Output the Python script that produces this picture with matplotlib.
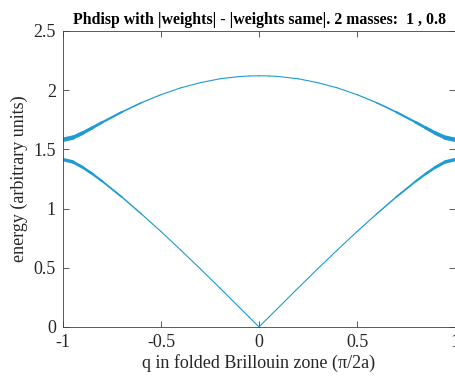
import numpy as np
import matplotlib
matplotlib.use("Agg")
import matplotlib.pyplot as plt
from matplotlib.collections import LineCollection

plt.rcParams["font.family"] = ["Liberation Serif", "DejaVu Serif"]

# q in folded zone (units of pi/2a), right half; mirrored for left half
q_half = [0.0, 0.05, 0.1, 0.2, 0.3, 0.4, 0.5, 0.6, 0.7, 0.8, 0.85, 0.9, 0.95, 1.0]
optical_half = [2.121, 2.12, 2.115, 2.096, 2.063, 2.019, 1.962, 1.894, 1.815,
                1.728, 1.682, 1.637, 1.599, 1.581]
acoustic_half = [0.0, 0.083, 0.165, 0.330, 0.492, 0.651, 0.806, 0.955, 1.098,
                 1.231, 1.293, 1.349, 1.394, 1.414]

TITLE = "Phdisp with |weights| - |weights same|. 2 masses:  1 , 0.8"
BLUE = "#1f9bd3"

q = np.array([-v for v in q_half[::-1]] + q_half[1:])
opt = np.array(optical_half[::-1] + optical_half[1:])
aco = np.array(acoustic_half[::-1] + acoustic_half[1:])


def branch(ax, x, y, w_edge):
    pts = np.column_stack([x, y]).reshape(-1, 1, 2)
    segs = np.concatenate([pts[:-1], pts[1:]], axis=1)
    mid = np.abs(0.5 * (x[:-1] + x[1:]))
    widths = 0.8 + w_edge * np.clip((mid - 0.45) / 0.55, 0, 1) ** 2
    lc = LineCollection(segs, colors=BLUE, linewidths=widths, capstyle="round",
                        joinstyle="round")
    ax.add_collection(lc)


fig = plt.figure(figsize=(4.56, 3.82), dpi=100)
ax = fig.add_axes([0.138, 0.144, 0.86, 0.775])

branch(ax, q, opt, 2.6)
branch(ax, q, aco, 1.8)

ax.set_xlim(-1, 1)
ax.set_ylim(0, 2.5)
ax.set_xticks([-1, -0.5, 0, 0.5, 1])
ax.set_xticklabels(["-1", "-0.5", "0", "0.5", "1"])
ax.set_yticks([0, 0.5, 1, 1.5, 2, 2.5])
ax.set_yticklabels(["0", "0.5", "1", "1.5", "2", "2.5"])
ax.tick_params(direction="in", top=True, right=True, labelsize=13,
               length=4, width=0.6, color="#404040", labelcolor="#262626", pad=5)
for s in ax.spines.values():
    s.set_linewidth(0.6)
    s.set_color("#404040")

ax.set_xlabel("q in folded Brillouin zone (\u03c0/2a)", fontsize=13, labelpad=2,
              color="#262626")
ax.set_ylabel("energy (arbitrary units)", fontsize=13, labelpad=4, color="#262626")
ax.set_title(TITLE, fontsize=11.4, fontweight="bold", pad=5)

fig.savefig("out.png", dpi=100, facecolor="white")
